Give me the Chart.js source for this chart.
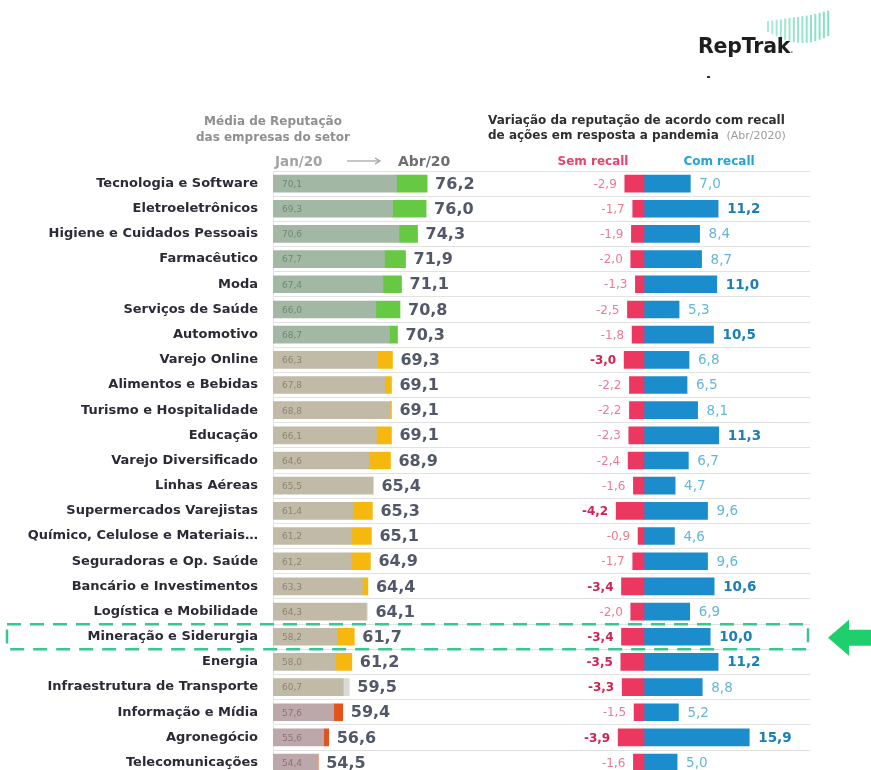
<!DOCTYPE html>
<html>
<head>
<meta charset="utf-8">
<script src="https://cdn.jsdelivr.net/npm/chart.js@4/dist/chart.umd.min.js"></script>
<style>
  html, body { margin: 0; padding: 0; background: #fff; overflow: hidden; width: 871px; height: 770px; }
  body { position: relative; font-family: "DejaVu Sans", sans-serif; }
  #chart { position: absolute; left: 0; top: 0; }
  .t { position: absolute; white-space: nowrap; }
</style>
</head>
<body>
<canvas id="chart" width="871" height="798"></canvas>

<!-- logo -->
<svg class="t" id="logoBars" style="left:760px;top:0px" width="80" height="50"></svg>
<div class="t" style="left:698px;top:34px;font:bold 20.5px 'DejaVu Sans';color:#1e1e1e;letter-spacing:-0.2px">RepTrak<span style="font-size:8px;color:#888">.</span></div>
<div class="t" style="left:707px;top:76px;width:3px;height:2px;background:#333"></div>

<!-- left header -->
<div class="t" style="left:173px;top:113px;width:200px;text-align:center;font:bold 12px 'DejaVu Sans';line-height:16px;color:#8f8f8f">Média de Reputação<br>das empresas do setor</div>
<div class="t" style="left:275px;top:153px;font:bold 13.5px 'DejaVu Sans';color:#a3a3a3">Jan/20</div>
<svg class="t" style="left:346px;top:155px" width="36" height="12"><line x1="1" y1="6" x2="33" y2="6" stroke="#a0a0a0" stroke-width="1.2"/><path d="M29 3 L34 6 L29 9" fill="none" stroke="#a0a0a0" stroke-width="1.2"/></svg>
<div class="t" style="left:398px;top:153px;font:bold 14px 'DejaVu Sans';color:#6e6e6e">Abr/20</div>

<!-- right header -->
<div class="t" style="left:488px;top:113px;font:bold 12px 'DejaVu Sans';line-height:15px;color:#2f2f2f">Variação da reputação de acordo com recall<br>de ações em resposta a pandemia <span style="font-weight:normal;font-size:11px;color:#9a9a9a">&nbsp;(Abr/2020)</span></div>
<div class="t" style="left:553px;top:154px;width:80px;text-align:center;font:bold 12px 'DejaVu Sans';color:#e8436a">Sem recall</div>
<div class="t" style="left:674px;top:154px;width:90px;text-align:center;font:bold 12px 'DejaVu Sans';color:#22a3d8">Com recall</div>

<script>
// ---- data ----
const sectors = [
  'Tecnologia e Software', 'Eletroeletrônicos', 'Higiene e Cuidados Pessoais', 'Farmacêutico',
  'Moda', 'Serviços de Saúde', 'Automotivo', 'Varejo Online', 'Alimentos e Bebidas',
  'Turismo e Hospitalidade', 'Educação', 'Varejo Diversificado', 'Linhas Aéreas',
  'Supermercados Varejistas', 'Químico, Celulose e Materiais…', 'Seguradoras e Op. Saúde',
  'Bancário e Investimentos', 'Logística e Mobilidade', 'Mineração e Siderurgia', 'Energia',
  'Infraestrutura de Transporte', 'Informação e Mídia', 'Agronegócio', 'Telecomunicações'
];
const jan20 = [70.1, 69.3, 70.6, 67.7, 67.4, 66.0, 68.7, 66.3, 67.8, 68.8, 66.1, 64.6,
               65.5, 61.4, 61.2, 61.2, 63.3, 64.3, 58.2, 58.0, 60.7, 57.6, 55.6, 54.4];
const abr20 = [76.2, 76.0, 74.3, 71.9, 71.1, 70.8, 70.3, 69.3, 69.1, 69.1, 69.1, 68.9,
               65.4, 65.3, 65.1, 64.9, 64.4, 64.1, 61.7, 61.2, 59.5, 59.4, 56.6, 54.5];
const semRecall = [-2.9, -1.7, -1.9, -2.0, -1.3, -2.5, -1.8, -3.0, -2.2, -2.2, -2.3, -2.4,
                   -1.6, -4.2, -0.9, -1.7, -3.4, -2.0, -3.4, -3.5, -3.3, -1.5, -3.9, -1.6];
const comRecall = [7.0, 11.2, 8.4, 8.7, 11.0, 5.3, 10.5, 6.8, 6.5, 8.1, 11.3, 6.7,
                   4.7, 9.6, 4.6, 9.6, 10.6, 6.9, 10.0, 11.2, 8.8, 5.2, 15.9, 5.0];
const highlightSector = 'Mineração e Siderurgia';

// ---- styling helpers ----
const tierOf = v => Math.round(v) >= 70 ? 0 : Math.round(v) >= 60 ? 1 : 2;
const baseColors = ['#a2b8a5', '#c0baa6', '#bca8aa'];
const gainColors = ['#66c843', '#f6b80f', '#e2541e'];
const janText = ['#6f8873', '#8b8571', '#8a7276'];
const fmt = v => v.toFixed(1).replace('.', ',');

// logo bars
(function () {
  const svg = document.getElementById('logoBars');
  let s = '';
  for (let k = 0; k < 15; k++) {
    const x = 7 + k * 4.3;
    const top = k < 10 ? 21 - k * 0.6 : 15 - (k - 10) * 1.1;
    const bot = 32 + 11 * Math.sin(Math.PI * k / 16);
    s += '<rect x="' + x + '" y="' + top + '" width="2" height="' + (bot - top) +
         '" fill="#72dcb9" opacity="' + (0.6 + k * 0.02) + '"/>';
  }
  svg.innerHTML = s;
})();

const LEFT_MIN = 45.5, LEFT_PX = 5.02, RIGHT_PX = 6.62;
const AREA_L = 273, AREA_R = 810, ZERO_X = 644;

const valueLabels = {
  id: 'valueLabels',
  afterDatasetsDraw(chart) {
    const ctx = chart.ctx, y = chart.scales.y, xl = chart.scales.xl, xr = chart.scales.xr;
    ctx.save();
    ctx.textBaseline = 'middle';
    sectors.forEach((s, i) => {
      const cy = y.getPixelForValue(i);
      const t = tierOf(abr20[i]);
      // jan value inside bar
      ctx.font = '9px "DejaVu Sans"';
      ctx.fillStyle = janText[t];
      ctx.textAlign = 'left';
      ctx.fillText(fmt(jan20[i]), xl.getPixelForValue(LEFT_MIN) + 9, cy + 1);
      // abr value after bar
      ctx.font = 'bold 16px "DejaVu Sans"';
      ctx.fillStyle = '#525868';
      ctx.fillText(fmt(abr20[i]), xl.getPixelForValue(Math.max(jan20[i], abr20[i])) + 8, cy + 1);
      // sem recall
      const semBold = semRecall[i] <= -3.0;
      ctx.font = (semBold ? 'bold ' : '') + '12px "DejaVu Sans"';
      ctx.fillStyle = semBold ? '#d4214f' : '#ec7b93';
      ctx.textAlign = 'right';
      ctx.fillText(fmt(semRecall[i]), xr.getPixelForValue(semRecall[i]) - 8, cy + 1);
      // com recall
      const comBold = comRecall[i] >= 10;
      ctx.font = (comBold ? 'bold ' : '') + '13.5px "DejaVu Sans"';
      ctx.fillStyle = comBold ? '#1b7fb7' : '#62b6dc';
      ctx.textAlign = 'left';
      ctx.fillText(fmt(comRecall[i]), xr.getPixelForValue(comRecall[i]) + 9, cy + 1);
    });
    ctx.restore();
  }
};

const highlight = {
  id: 'highlight',
  afterDraw(chart) {
    const ctx = chart.ctx, y = chart.scales.y;
    const i = sectors.indexOf(highlightSector);
    const cy = y.getPixelForValue(i);
    const half = (y.bottom - y.top) / sectors.length / 2;
    ctx.save();
    ctx.strokeStyle = '#3cc58f';
    ctx.lineWidth = 2.5;
    ctx.setLineDash([14, 9]);
    ctx.strokeRect(7, cy - half, 801, half * 2);
    ctx.setLineDash([]);
    ctx.fillStyle = '#1fcf6d';
    ctx.beginPath();
    ctx.moveTo(828, cy + 1);
    ctx.lineTo(849, cy - 17);
    ctx.lineTo(849, cy - 7);
    ctx.lineTo(871, cy - 7);
    ctx.lineTo(871, cy + 9);
    ctx.lineTo(849, cy + 9);
    ctx.lineTo(849, cy + 19);
    ctx.closePath();
    ctx.fill();
    ctx.restore();
  }
};

const barOpts = { grouped: false, barThickness: 17, borderWidth: 0, yAxisID: 'y' };

new Chart(document.getElementById('chart'), {
  type: 'bar',
  data: {
    labels: sectors,
    datasets: [
      Object.assign({
        label: 'Jan/20',
        data: sectors.map((s, i) => Math.min(jan20[i], abr20[i])),
        backgroundColor: abr20.map(v => baseColors[tierOf(v)]),
        xAxisID: 'xl'
      }, barOpts),
      Object.assign({
        label: 'Abr/20 (alta)',
        data: sectors.map((s, i) => abr20[i] > jan20[i] ? [jan20[i], abr20[i]] : null),
        backgroundColor: abr20.map(v => gainColors[tierOf(v)]),
        xAxisID: 'xl'
      }, barOpts),
      Object.assign({
        label: 'Abr/20 (queda)',
        data: sectors.map((s, i) => jan20[i] > abr20[i] ? [abr20[i], jan20[i]] : null),
        backgroundColor: '#dcdad2',
        xAxisID: 'xl'
      }, barOpts),
      Object.assign({
        label: 'Sem recall',
        data: semRecall,
        backgroundColor: '#ec3861',
        xAxisID: 'xr'
      }, barOpts),
      Object.assign({
        label: 'Com recall',
        data: comRecall,
        backgroundColor: '#1c8dcc',
        xAxisID: 'xr'
      }, barOpts)
    ]
  },
  options: {
    responsive: false,
    animation: false,
    devicePixelRatio: 1,
    indexAxis: 'y',
    layout: { padding: { top: 171, right: 871 - AREA_R, bottom: 0, left: 0 } },
    plugins: { legend: { display: false }, tooltip: { enabled: false } },
    scales: {
      y: {
        type: 'category',
        grid: { color: '#e2e2e2', drawTicks: false, offset: true },
        border: { color: '#e6e6e6' },
        ticks: { autoSkip: false, padding: 15, color: '#2a2b36', font: { family: 'DejaVu Sans', size: 13, weight: 'bold' } },
        afterFit(scale) { scale.width = AREA_L; }
      },
      xl: {
        type: 'linear', axis: 'x', position: 'bottom', display: false,
        min: LEFT_MIN, max: LEFT_MIN + (AREA_R - AREA_L) / LEFT_PX
      },
      xr: {
        type: 'linear', axis: 'x', position: 'bottom', display: false,
        min: -(ZERO_X - AREA_L) / RIGHT_PX, max: (AREA_R - ZERO_X) / RIGHT_PX
      }
    }
  },
  plugins: [valueLabels, highlight]
});
</script>
</body>
</html>
